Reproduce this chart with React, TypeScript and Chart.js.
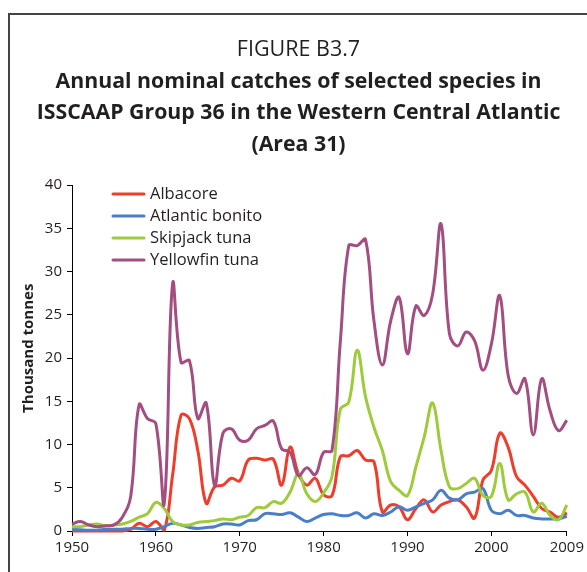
import { useEffect, useRef } from 'react';
import { Chart, registerables } from 'chart.js';

Chart.register(...registerables);

const years = [
  1950, 1951, 1952, 1953, 1954, 1955, 1956, 1957, 1958, 1959,
  1960, 1961, 1962, 1963, 1964, 1965, 1966, 1967, 1968, 1969,
  1970, 1971, 1972, 1973, 1974, 1975, 1976, 1977, 1978, 1979,
  1980, 1981, 1982, 1983, 1984, 1985, 1986, 1987, 1988, 1989,
  1990, 1991, 1992, 1993, 1994, 1995, 1996, 1997, 1998, 1999,
  2000, 2001, 2002, 2003, 2004, 2005, 2006, 2007, 2008, 2009,
];

const albacore = [
  0, 0, 0, 0, 0, 0, 0, 0.2, 0.9, 0.5,
  1.1, 0.1, 6.5, 13.4, 13.0, 9.3, 3.2, 5.1, 5.3, 6.1,
  5.8, 8.2, 8.4, 8.2, 8.3, 5.3, 9.7, 6.6, 5.3, 6.1,
  4.2, 4.1, 8.6, 8.7, 9.3, 8.2, 8.0, 2.2, 3.0, 2.8,
  1.3, 2.6, 3.6, 2.2, 3.0, 3.4, 3.6, 2.8, 1.5, 5.9,
  7.0, 11.3, 9.7, 6.3, 5.3, 4.0, 2.6, 2.2, 1.6, 2.1,
];

const atlanticBonito = [
  0.2, 0.15, 0.1, 0.1, 0.2, 0.2, 0.2, 0.3, 0.3, 0.2,
  0.2, 0.5, 0.9, 0.7, 0.4, 0.3, 0.4, 0.5, 0.8, 0.8,
  0.7, 1.2, 1.3, 2.0, 2.0, 1.9, 2.1, 1.6, 1.1, 1.5,
  1.9, 2.0, 1.8, 1.8, 2.1, 1.5, 2.0, 1.8, 2.2, 2.8,
  2.4, 2.8, 3.2, 3.6, 4.7, 3.8, 3.6, 4.3, 4.5, 4.9,
  2.4, 2.0, 2.4, 1.8, 1.8, 1.5, 1.4, 1.4, 1.4, 1.7,
];

const skipjackTuna = [
  0.5, 0.5, 0.7, 0.8, 0.6, 0.7, 0.8, 1.1, 1.6, 2.0,
  3.3, 2.6, 1.1, 0.7, 0.7, 1.0, 1.1, 1.2, 1.4, 1.3,
  1.6, 1.8, 2.7, 2.7, 3.4, 3.2, 4.5, 6.6, 4.3, 3.4,
  4.4, 6.3, 14.1, 14.9, 20.9, 15.5, 12.0, 9.3, 5.7, 4.7,
  4.1, 7.4, 10.9, 14.8, 9.3, 5.1, 4.9, 5.5, 6.1, 4.1,
  4.0, 7.8, 3.6, 4.3, 4.5, 2.2, 3.2, 1.8, 1.3, 3.0,
];

const yellowfinTuna = [
  0.8, 1.1, 0.7, 0.5, 0.6, 0.7, 1.6, 4.0, 14.6, 13.0,
  12.4, 3.2, 28.6, 19.5, 19.7, 13.0, 14.8, 5.3, 11.3, 11.8,
  10.5, 10.5, 11.8, 12.2, 12.7, 9.5, 9.1, 6.4, 7.3, 6.5,
  9.1, 9.3, 22.0, 33.0, 33.0, 33.7, 24.3, 19.2, 24.3, 27.0,
  20.5, 26.0, 24.9, 27.4, 35.5, 22.8, 21.4, 23.0, 22.0, 18.6,
  21.6, 27.2, 18.0, 15.9, 17.6, 11.1, 17.6, 13.9, 11.6, 12.8,
];

const seriesNames = ['Albacore', 'Atlantic bonito', 'Skipjack tuna', 'Yellowfin tuna'];
const seriesColors = ['#EE3D2B', '#4A7EC8', '#9DCB3B', '#A34E80'];
const seriesValues = [albacore, atlanticBonito, skipjackTuna, yellowfinTuna];

const xTickValues = [1950, 1960, 1970, 1980, 1990, 2000, 2009];

const figureLabel = 'FIGURE B3.7';
const titleLines = [
  'Annual nominal catches of selected species in',
  'ISSCAAP Group 36 in the Western Central Atlantic',
  '(Area 31)',
];
const yAxisTitle = '\u00A0\u00A0\u00A0\u00A0\u00A0Thousand tonnes';

const TEXT = '#231f20';
const FONT = '"Open Sans", "DejaVu Sans", sans-serif';

const insideLegend = {
  id: 'insideLegend',
  afterDatasetsDraw(chart: any) {
    const { ctx, chartArea } = chart;
    ctx.save();
    chart.data.datasets.forEach((ds: any, i: number) => {
      const y = chartArea.top + 9 + i * 22;
      const x0 = chartArea.left + 41;
      ctx.strokeStyle = ds.borderColor;
      ctx.lineWidth = 3;
      ctx.lineCap = 'round';
      ctx.beginPath();
      ctx.moveTo(x0, y);
      ctx.lineTo(x0 + 31, y);
      ctx.stroke();
      ctx.fillStyle = TEXT;
      ctx.font = `16.5px ${FONT}`;
      ctx.textBaseline = 'middle';
      ctx.textAlign = 'left';
      ctx.fillText(ds.label, x0 + 37, y);
    });
    ctx.restore();
  },
};

export default function App() {
  const canvasRef = useRef<HTMLCanvasElement | null>(null);

  useEffect(() => {
    if (!canvasRef.current) return;
    const datasets = seriesNames.map((name, i) => ({
      label: name,
      data: years.map((yr, j) => ({ x: yr, y: seriesValues[i][j] })),
      borderColor: seriesColors[i],
      backgroundColor: seriesColors[i],
      borderWidth: 3,
      pointRadius: 0,
      tension: 0.4,
      fill: false,
      clip: false as any,
      order: seriesNames.length - 1 - i,
    }));

    const chart = new Chart(canvasRef.current, {
      type: 'line',
      data: { datasets },
      plugins: [insideLegend],
      options: {
        animation: false,
        responsive: false,
        layout: { padding: { top: 0, right: 0, bottom: 0, left: 0 } },
        plugins: {
          legend: { display: false },
          tooltip: { enabled: false },
          title: {
            display: true,
            text: figureLabel,
            color: TEXT,
            font: { family: FONT, size: 21.5, weight: 'normal', lineHeight: '26px' },
            padding: { top: 22, bottom: 0 },
          },
          subtitle: {
            display: true,
            text: titleLines,
            color: TEXT,
            font: { family: FONT, size: 21.3, weight: 'bold', lineHeight: '31.5px' },
            padding: { top: 3, bottom: 24.5 },
          },
        },
        scales: {
          x: {
            type: 'linear',
            min: 1950,
            max: 2009,
            afterBuildTicks: (scale: any) => {
              scale.ticks = xTickValues.map((v) => ({ value: v }));
            },
            afterFit: (scale: any) => {
              scale.height = 41;
            },
            grid: {
              display: true,
              drawOnChartArea: false,
              drawTicks: true,
              tickLength: 5,
              color: '#000',
              tickColor: '#000',
            },
            border: { display: true, color: '#000', width: 1 },
            ticks: {
              autoSkip: false,
              maxRotation: 0,
              padding: 3,
              color: TEXT,
              font: { family: FONT, size: 15 },
              callback: (v: any) => String(v),
            },
          },
          y: {
            min: 0,
            max: 40,
            afterFit: (scale: any) => {
              scale.width = 62;
            },
            grid: {
              display: true,
              drawOnChartArea: false,
              drawTicks: true,
              tickLength: 5,
              color: '#000',
              tickColor: '#000',
            },
            border: { display: true, color: '#000', width: 1 },
            ticks: {
              stepSize: 5,
              padding: 5,
              color: TEXT,
              font: { family: FONT, size: 15 },
            },
            title: {
              display: true,
              text: yAxisTitle,
              color: TEXT,
              font: { family: FONT, size: 15, weight: 'bold', lineHeight: 1.2 },
              padding: { top: 10, bottom: 0 },
            },
          },
          yRightSpace: {
            type: 'linear',
            position: 'right',
            min: 0,
            max: 40,
            display: true,
            afterFit: (scale: any) => {
              scale.width = 19;
            },
            grid: { display: false, drawTicks: false },
            border: { display: false },
            ticks: { display: false },
          },
        },
      },
    });
    return () => chart.destroy();
  }, []);

  return (
    <div
      style={{
        position: 'absolute',
        left: 8,
        top: 13,
        width: 579,
        height: 559,
        borderTop: '2px solid #444',
        borderLeft: '2px solid #444',
        boxSizing: 'border-box',
        background: '#fff',
      }}
    >
      <canvas ref={canvasRef} width={577} height={557} style={{ display: 'block' }} />
    </div>
  );
}
